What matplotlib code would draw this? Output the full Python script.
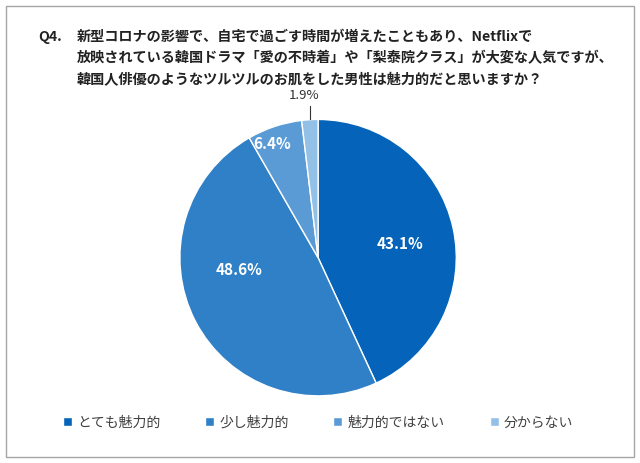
import matplotlib.pyplot as plt
from matplotlib.patches import Rectangle

plt.rcParams['font.family'] = ['Noto Sans CJK JP', 'DejaVu Sans']

# data
categories = ['とても魅力的', '少し魅力的', '魅力的ではない', '分からない']
values = [43.1, 48.6, 6.4, 1.9]
colors = ['#0563b9', '#2f80c6', '#5b9bd5', '#93c0e6']
title_lines = [
    '新型コロナの影響で、自宅で過ごす時間が増えたこともあり、Netflixで',
    '放映されている韓国ドラマ「愛の不時着」や「梨泰院クラス」が大変な人気ですが、',
    '韓国人俳優のようなツルツルのお肌をした男性は魅力的だと思いますか？',
]

fig = plt.figure(figsize=(6.4, 4.63), dpi=100)

# outer frame
fig.patches.append(Rectangle((0.009, 0.013), 0.982, 0.974, transform=fig.transFigure,
                             fill=False, edgecolor='#a6a6a6', linewidth=1.0))

# title
fig.text(0.059, 0.92, 'Q4.', fontsize=10.2, fontweight='bold', color='#222222', va='center')
for i, line in enumerate(title_lines):
    fig.text(0.12, 0.92 - 0.046 * i, line, fontsize=10.2, fontweight='bold',
             color='#222222', va='center')

ax = fig.add_axes([0.281, 0.145, 0.432, 0.597])
wedges, _ = ax.pie(values, colors=colors, startangle=90, counterclock=False,
                   wedgeprops=dict(edgecolor='white', linewidth=1.0))
ax.set_xlim(-1, 1)
ax.set_ylim(-1, 1)
ax.set_aspect('equal')

# slice labels
inner_pos = [(0.59, 0.10), (-0.57, -0.09), (-0.33, 0.82)]
for v, (x, y) in zip(values[:3], inner_pos):
    ax.text(x, y, f'{v}%', color='white', fontsize=11, fontweight='bold', ha='center', va='center')
ax.text(-0.1, 1.17, f'{values[3]}%', fontsize=9.5, ha='center', va='center', color='#333333')
ax.plot([-0.06, -0.06], [1.0, 1.1], color='#333333', linewidth=0.8, clip_on=False)

# legend
leg = fig.legend(wedges, categories, loc='center', bbox_to_anchor=(0.497, 0.087), ncol=4,
                 frameon=False, fontsize=10, handlelength=0.65, handleheight=0.65,
                 columnspacing=3.2, handletextpad=0.4, labelcolor='#404040')

fig.savefig('out.png', dpi=100)
